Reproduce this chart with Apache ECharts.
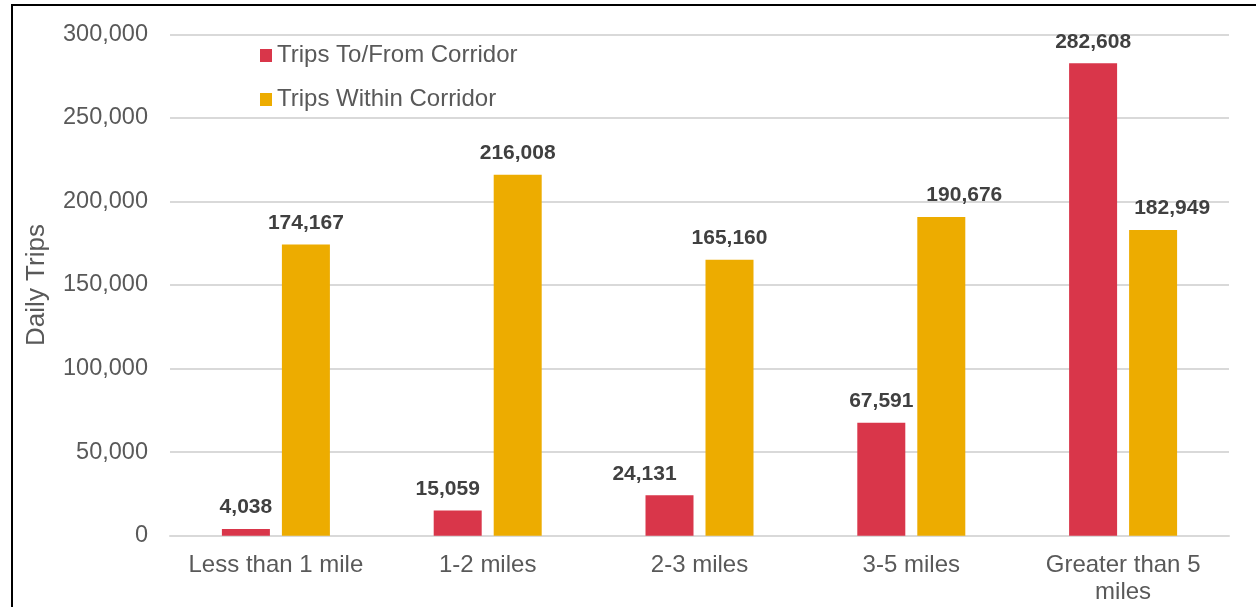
<!DOCTYPE html>
<html>
<head>
<meta charset="utf-8">
<script src="https://cdn.jsdelivr.net/npm/echarts@6/dist/echarts.min.js"></script>
<style>
html,body{margin:0;padding:0;background:#fff;}
#wrap{position:relative;width:1256px;height:607px;overflow:hidden;}
#frame{position:absolute;left:11px;top:4px;width:1300px;height:700px;border-left:2px solid #000;border-top:2px solid #000;box-sizing:border-box;pointer-events:none;z-index:2;}
#chart{position:absolute;left:0;top:0;width:1256px;height:607px;}
</style>
</head>
<body>
<div id="wrap"><div id="chart"></div><div id="frame"></div></div>
<script>
const categories = ['Less than 1 mile', '1-2 miles', '2-3 miles', '3-5 miles', 'Greater than 5\nmiles'];
const seriesNames = ['Trips To/From Corridor', 'Trips Within Corridor'];
const toFromCorridor = [4038, 15059, 24131, 67591, 282608];
const withinCorridor = [174167, 216008, 165160, 190676, 182949];
const yTicks = [0, 50000, 100000, 150000, 200000, 250000, 300000];
const yAxisTitle = 'Daily Trips';

// label nudges (styling only, pixels) as placed in the original
const toFromLabelShift = [0, -10, -25, 0, 0];
const withinLabelShift = [0, 0, 0, 23, 19];

const FONT = '"Liberation Sans", Arial, sans-serif';
const fmt = v => v.toLocaleString('en-US');
const chart = echarts.init(document.getElementById('chart'), null, {renderer: 'canvas'});
const labelCfg = {
  show: true, position: 'top', distance: 11,
  fontFamily: FONT, fontSize: 21, fontWeight: 'bold', color: '#404040',
  formatter: p => fmt(p.value)
};
const withShift = (vals, shifts) => vals.map((v, i) => ({value: v, label: {offset: [shifts[i], 0]}}));
chart.setOption({
  animation: false,
  grid: {left: 170, right: 27, top: 34.3, bottom: 71.3, containLabel: false},
  legend: {
    orient: 'vertical', left: 255, top: 37,
    itemWidth: 12, itemHeight: 13, itemGap: 17,
    icon: 'rect',
    textStyle: {fontFamily: FONT, fontSize: 24, color: '#595959', lineHeight: 27, padding: [0,0,0,0]},
    data: seriesNames
  },
  xAxis: {
    type: 'category', data: categories,
    axisLine: {show: true, lineStyle: {color: '#D9D9D9', width: 2}},
    axisTick: {show: false},
    axisLabel: {fontFamily: FONT, fontSize: 24, color: '#595959', margin: 16, lineHeight: 27, interval: 0}
  },
  yAxis: {
    type: 'value', min: yTicks[0], max: yTicks[yTicks.length-1], interval: yTicks[1]-yTicks[0],
    name: yAxisTitle, nameLocation: 'middle', nameGap: 120, nameRotate: 90,
    nameTextStyle: {fontFamily: FONT, fontSize: 26, color: '#595959'},
    axisLine: {show: false}, axisTick: {show: false},
    axisLabel: {fontFamily: FONT, fontSize: 23.5, color: '#595959', margin: 22, formatter: v => fmt(v)},
    splitLine: {lineStyle: {color: '#D9D9D9', width: 2}}
  },
  series: [
    {name: seriesNames[0], type: 'bar', data: withShift(toFromCorridor, toFromLabelShift), barWidth: 48, barGap: '25%',
     itemStyle: {color: '#D9364A'}, label: labelCfg},
    {name: seriesNames[1], type: 'bar', data: withShift(withinCorridor, withinLabelShift), barWidth: 48, barGap: '25%',
     itemStyle: {color: '#EDAC00'}, label: labelCfg}
  ]
});
</script>
</body>
</html>
